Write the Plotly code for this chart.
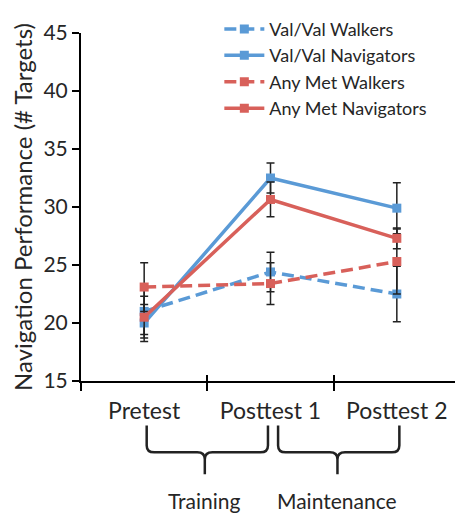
import plotly.graph_objects as go

# ---- data ----
phases = ["Pretest", "Posttest 1", "Posttest 2"]
phase_pos = [0, 1, 2]

valval_walkers = [21.0, 24.4, 22.5]
valval_walkers_err = [2.0, 1.7, 2.4]
valval_navigators = [20.0, 32.5, 29.9]
valval_navigators_err = [1.6, 1.3, 2.2]
anymet_walkers = [23.1, 23.4, 25.3]
anymet_walkers_err = [2.1, 1.8, 2.8]
anymet_navigators = [20.5, 30.65, 27.3]
anymet_navigators_err = [1.8, 1.5, 0.9]

y_ticks = [15, 20, 25, 30, 35, 40, 45]
boundaries = [-0.5, 0.5, 1.5, 2.5]
periods = ["Training", "Maintenance"]

BLUE = "#5a9ad6"
RED = "#d8605a"
FONT = "Lato"
TXT = "#262626"

series = [
    ("Val/Val Walkers", valval_walkers, valval_walkers_err, BLUE, "12px,6px"),
    ("Val/Val Navigators", valval_navigators, valval_navigators_err, BLUE, "solid"),
    ("Any Met Walkers", anymet_walkers, anymet_walkers_err, RED, "12px,6px"),
    ("Any Met Navigators", anymet_navigators, anymet_navigators_err, RED, "solid"),
]

fig = go.Figure()
for i, (name, vals, errs, col, dash) in enumerate(series):
    fig.add_trace(go.Scatter(
        x=phase_pos, y=vals, name=name, mode="lines+markers",
        line=dict(color=col, width=3.5, dash=dash),
        marker=dict(symbol="square", size=9, color=col),
        error_y=dict(type="data", array=errs, visible=True,
                     color="#222222", thickness=1.5, width=4),
        legendgroup="g%d" % i,
    ))

# invisible trace carrying the overlay axis for inward boundary ticks
fig.add_trace(go.Scatter(x=[0], y=[None], xaxis="x2", showlegend=False,
                         hoverinfo="skip", mode="markers"))

# braces below the axis (x in data units, y in paper units)
y_top, y_h, y_tip = -0.128, -0.205, -0.268
dy, dx = 0.02, 0.06
braces = [(0.02, 0.48, 0.98), (1.06, 1.53, 2.02)]
for (x0, xc, x1), label in zip(braces, periods):
    path = (f"M {x0},{y_top} L {x0},{y_h + dy} Q {x0},{y_h} {x0 + dx},{y_h} "
            f"L {xc - dx},{y_h} Q {xc},{y_h} {xc},{y_h - dy} L {xc},{y_tip} "
            f"M {xc},{y_h - dy} Q {xc},{y_h} {xc + dx},{y_h} "
            f"L {x1 - dx},{y_h} Q {x1},{y_h} {x1},{y_h + dy} L {x1},{y_top}")
    fig.add_shape(type="path", path=path, xref="x", yref="paper",
                  line=dict(color="#222222", width=2.5))
    fig.add_annotation(x=xc, y=-0.342, xref="x", yref="paper", text=label,
                       yanchor="middle", showarrow=False,
                       font=dict(family=FONT, size=21, color=TXT))

# page body has an 8px margin, so the figure is sized/offset to compensate
fig.update_layout(
    width=455, height=508,
    margin=dict(l=73, r=3, t=10, b=135),
    paper_bgcolor="white", plot_bgcolor="white",
    font=dict(family=FONT, color=TXT),
    showlegend=True,
    legend=dict(x=0.365, y=1.064, xanchor="left", yanchor="top", itemwidth=40,
                font=dict(family=FONT, size=18, color=TXT),
                bgcolor="rgba(0,0,0,0)", tracegroupgap=0, traceorder="grouped"),
    xaxis=dict(
        range=[-0.5, 2.5], tickmode="array", tickvals=phase_pos, ticktext=phases,
        ticks="outside", ticklen=8, tickcolor="rgba(0,0,0,0)",
        tickfont=dict(family=FONT, size=23, color=TXT), automargin=False,
        showline=True, linecolor="black", linewidth=2, showgrid=False, zeroline=False,
        minor=dict(tickmode="array", tickvals=boundaries, ticks="outside",
                   ticklen=8, tickwidth=2, tickcolor="black", showgrid=False),
    ),
    xaxis2=dict(
        overlaying="x", anchor="y", side="bottom", range=[-0.5, 2.5],
        tickmode="array", tickvals=boundaries, ticks="inside", ticklen=6,
        tickwidth=2, tickcolor="black", showticklabels=False, automargin=False,
        showgrid=False, zeroline=False, showline=False,
    ),
    yaxis=dict(
        range=[15, 45], tickmode="array", tickvals=y_ticks,
        ticks="outside", ticklen=7, tickwidth=2, tickcolor="black",
        tickfont=dict(family=FONT, size=21, color=TXT), automargin=False,
        showline=True, linecolor="black", linewidth=2, showgrid=False, zeroline=False,
        title=dict(text="Navigation Performance (# Targets)", standoff=8,
                   font=dict(family=FONT, size=24, color=TXT)),
    ),
)

fig.write_html("out.html")
